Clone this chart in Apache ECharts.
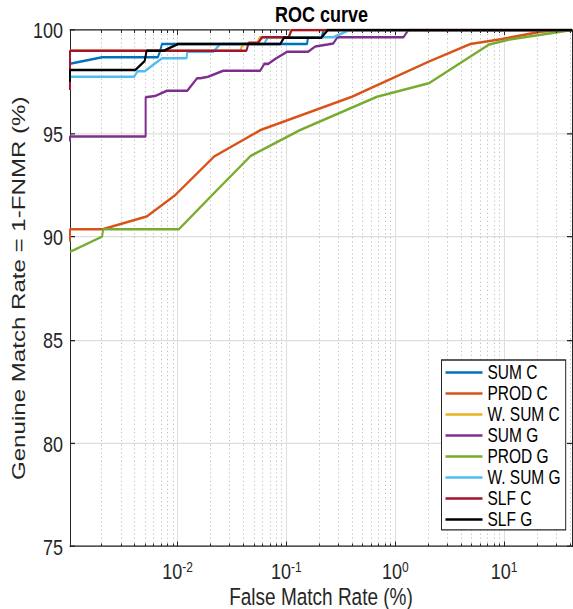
<!DOCTYPE html>
<html>
<head>
<meta charset="utf-8">
<script src="https://cdn.jsdelivr.net/npm/echarts@6/dist/echarts.min.js"></script>
<style>
  html, body { margin: 0; padding: 0; background: #ffffff; overflow: hidden; }
  #wrap { width: 573px; height: 609px; overflow: hidden; background: #ffffff; }
  /* the figure is drawn at 573x480 and stretched vertically to fill the page */
  #chart { width: 573px; height: 480px; transform: scaleY(1.26875); transform-origin: 0 0; }
</style>
</head>
<body>
<div id="wrap"><div id="chart"></div></div>
<script>
const STRETCH = 609 / 480;

// Axis ranges (x in %, log scale)
const X_MIN = 0.00103;
const X_MAX = 42;
const Y_MIN = 75;
const Y_MAX = 100;
const Y_TICKS = [75, 80, 85, 90, 95, 100];

const seriesNames = ['SUM C', 'PROD C', 'W. SUM C', 'SUM G', 'PROD G', 'W. SUM G', 'SLF C', 'SLF G'];
const seriesColors = ['#0072BD', '#D95319', '#EDB120', '#7E2F8E', '#77AC30', '#4DBEEE', '#A2142F', '#000000'];

// [false match rate %, genuine match rate %]
const sumC = [[0.00103, 98.37], [0.00203, 98.68], [0.0066, 98.68], [0.0069, 98.95], [0.0072, 99.32],
  [0.155, 99.32], [0.158, 99.65], [0.21, 99.65], [0.22, 100], [42, 100]];
const prodC = [[0.00103, 89.76], [0.00103, 90.36], [0.00205, 90.36], [0.0052, 90.97], [0.0096, 92.02],
  [0.0216, 93.87], [0.058, 95.16], [0.40, 96.77], [2.03, 98.47], [4.9, 99.32], [9.3, 99.55],
  [21.6, 99.92], [33, 100], [42, 100]];
const wSumC = [[0.00103, 99.0], [0.0377, 99.0], [0.040, 99.35], [0.054, 99.35], [0.057, 99.65],
  [0.105, 99.65], [0.11, 100], [42, 100]];
const sumG = [[0.00103, 94.6], [0.00103, 94.84], [0.0051, 94.84], [0.0051, 96.74], [0.0062, 96.8],
  [0.0080, 97.06], [0.0123, 97.06], [0.0151, 97.66], [0.0162, 97.66], [0.0191, 97.74], [0.0263, 98.03],
  [0.0575, 98.03], [0.0627, 98.36], [0.0682, 98.36], [0.0791, 98.6], [0.102, 98.95], [0.159, 98.95],
  [0.184, 99.2], [0.238, 99.3], [0.27, 99.35], [0.294, 99.65], [1.19, 99.65], [1.32, 100], [42, 100]];
const prodG = [[0.00103, 89.26], [0.00203, 90.0], [0.00208, 90.36], [0.0103, 90.36], [0.0216, 92.1],
  [0.0469, 93.9], [0.134, 95.16], [0.68, 96.77], [2.03, 97.42], [7.3, 99.3], [10.7, 99.52],
  [33, 99.92], [42, 100]];
const wSumG = [[0.00103, 97.74], [0.0040, 97.74], [0.0043, 98.0], [0.0050, 98.0], [0.0058, 98.26],
  [0.0072, 98.63], [0.0121, 98.63], [0.0123, 98.95], [0.0213, 98.95], [0.0247, 99.32], [0.062, 99.32],
  [0.068, 99.65], [0.27, 99.65], [0.38, 100], [42, 100]];
const slfC = [[0.00103, 97.1], [0.00103, 99.0], [0.043, 99.0], [0.045, 99.38], [0.055, 99.38],
  [0.060, 99.65], [0.105, 99.65], [0.112, 100], [42, 100]];
const slfG = [[0.00103, 97.5], [0.00103, 98.06], [0.0041, 98.06], [0.0050, 98.5], [0.0052, 99.0],
  [0.0075, 99.0], [0.0101, 99.32], [0.088, 99.32], [0.095, 99.63], [0.21, 99.63], [0.24, 100], [42, 100]];

const seriesData = [sumC, prodC, wSumC, sumG, prodG, wSumG, slfC, slfG];

const FONT = '"Liberation Sans", Arial, Helvetica, sans-serif';
const AXIS_COLOR = '#262626';

function decadeLabel(v) {
  const l = Math.log10(v);
  const e = Math.round(l);
  if (Math.abs(l - e) > 1e-6) return '';
  return '10{sup|' + e + '}';
}

const option = {
  animation: false,
  backgroundColor: '#ffffff',
  title: {
    text: 'ROC curve',
    left: 275,
    top: 2,
    padding: 0,
    textStyle: { fontFamily: FONT, fontSize: 18, fontWeight: 'bold', color: '#000' }
  },
  grid: { left: 70, right: 1, top: 30 / STRETCH, bottom: 480 - 546.5 / STRETCH,
    containLabel: false, outerBoundsMode: 'none' },
  legend: {
    orient: 'vertical',
    left: 441.5,
    top: 360 / STRETCH,
    padding: [1.5, 5, 0, 4],
    itemGap: 0,
    itemWidth: 37,
    itemHeight: 2,
    icon: 'rect',
    backgroundColor: '#ffffff',
    borderColor: AXIS_COLOR,
    borderWidth: 1,
    borderRadius: 0,
    selectedMode: false,
    textStyle: { fontFamily: FONT, fontSize: 15.5, color: '#000', lineHeight: 21 / STRETCH },
    data: seriesNames
  },
  xAxis: [{
    type: 'log',
    logBase: 10,
    min: X_MIN,
    max: X_MAX,
    name: 'False Match Rate (%)',
    nameLocation: 'middle',
    nameGap: 30,
    nameMoveOverlap: false,
    nameTextStyle: { fontFamily: FONT, fontSize: 19, color: AXIS_COLOR },
    axisLine: { show: true, onZero: false, lineStyle: { color: AXIS_COLOR, width: 1 } },
    axisTick: { show: true, inside: true, length: 4, lineStyle: { color: AXIS_COLOR } },
    axisLabel: {
      margin: 10,
      fontFamily: FONT, fontSize: 18, color: AXIS_COLOR,
      formatter: decadeLabel,
      rich: { sup: { fontFamily: FONT, fontSize: 12, color: AXIS_COLOR, verticalAlign: 'top', padding: [0, 0, 6, 0] } }
    },
    splitLine: { show: true, lineStyle: { color: '#dedede', width: 1 } }
  }, {
    type: 'log',
    logBase: 10,
    min: X_MIN,
    max: X_MAX,
    position: 'top',
    axisLine: { show: true, onZero: false, lineStyle: { color: AXIS_COLOR, width: 1 } },
    axisTick: { show: true, inside: true, length: 4, lineStyle: { color: AXIS_COLOR } },
    axisLabel: { show: false },
    splitLine: { show: false }
  }],
  yAxis: [{
    type: 'value',
    min: Y_MIN,
    max: Y_MAX,
    interval: 5,
    name: 'Genuine Match Rate = 1-FNMR (%)',
    nameLocation: 'middle',
    nameGap: 42,
    nameMoveOverlap: false,
    nameTextStyle: { fontFamily: FONT, fontSize: 19, color: AXIS_COLOR },
    axisLine: { show: true, onZero: false, lineStyle: { color: AXIS_COLOR, width: 1 } },
    axisTick: { show: true, inside: true, length: 5, lineStyle: { color: AXIS_COLOR } },
    axisLabel: { margin: 7, fontFamily: FONT, fontSize: 18, color: AXIS_COLOR,
      formatter: v => (Y_TICKS.indexOf(v) >= 0 ? String(v) : '') },
    splitLine: { show: true, lineStyle: { color: '#dedede', width: 1 } }
  }, {
    type: 'value',
    min: Y_MIN,
    max: Y_MAX,
    interval: 5,
    position: 'right',
    axisLine: { show: true, onZero: false, lineStyle: { color: AXIS_COLOR, width: 1 } },
    axisTick: { show: true, inside: true, length: 5, lineStyle: { color: AXIS_COLOR } },
    axisLabel: { show: false },
    splitLine: { show: false }
  }],
  series: seriesNames.map((name, i) => ({
    name: name,
    type: 'line',
    xAxisIndex: 0,
    yAxisIndex: 0,
    data: seriesData[i],
    symbol: 'none',
    showSymbol: false,
    clip: true,
    color: seriesColors[i],
    lineStyle: { color: seriesColors[i], width: 2 },
    z: 2 + i
  }))
};

const chart = echarts.init(document.getElementById('chart'), null, { renderer: 'svg' });
chart.setOption(option);

// Minor decade grid (2..9 x 10^k): dotted lines plus short inside ticks top and bottom
const minorValues = [];
for (let k = -3; k <= 1; k++) {
  for (let m = 2; m <= 9; m++) {
    const v = m * Math.pow(10, k);
    if (v > X_MIN && v < X_MAX) minorValues.push(v);
  }
}
const yTop = chart.convertToPixel({ yAxisIndex: 0 }, Y_MAX);
const yBot = chart.convertToPixel({ yAxisIndex: 0 }, Y_MIN);
const minorEls = [];
minorValues.forEach(v => {
  const x = Math.round(chart.convertToPixel({ xAxisIndex: 0 }, v)) + 0.5;
  minorEls.push({ type: 'line', silent: true, z: 1,
    shape: { x1: x, y1: yTop, x2: x, y2: yBot },
    style: { stroke: '#c2c2c2', lineWidth: 1, lineDash: [1, 2.2] } });
  minorEls.push({ type: 'line', silent: true, z: 20,
    shape: { x1: x, y1: yBot, x2: x, y2: yBot - 2.4 },
    style: { stroke: AXIS_COLOR, lineWidth: 1 } });
  minorEls.push({ type: 'line', silent: true, z: 20,
    shape: { x1: x, y1: yTop, x2: x, y2: yTop + 2.4 },
    style: { stroke: AXIS_COLOR, lineWidth: 1 } });
});
chart.setOption({ graphic: minorEls });
</script>
</body>
</html>
